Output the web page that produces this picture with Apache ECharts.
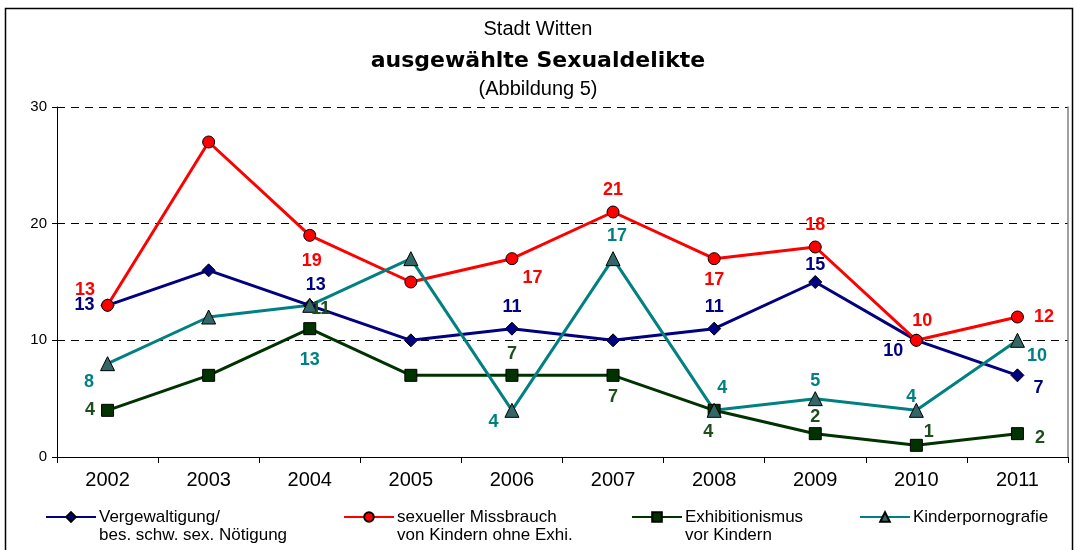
<!DOCTYPE html>
<html>
<head>
    <meta charset="utf-8">
    <title>Stadt Witten | ECharts</title>
    <script src="https://cdn.jsdelivr.net/npm/echarts@6/dist/echarts.min.js"></script>
</head>
<body style="margin:0">
    <div id="main" style="width: 1076px;height:550px;"></div>
    <script type="text/javascript">
        // Daten
        var years = ['2002', '2003', '2004', '2005', '2006', '2007', '2008', '2009', '2010', '2011'];
        var vergewaltigung = [13, 16, 13, 10, 11, 10, 11, 15, 10, 7];
        var missbrauch = [13, 27, 19, 15, 17, 21, 17, 18, 10, 12];
        var exhibitionismus = [4, 7, 11, 7, 7, 7, 4, 2, 1, 2];
        var kinderporno = [8, 12, 13, 17, 4, 17, 4, 5, 4, 10];
        var yTicks = [0, 10, 20, 30];

        // Beschriftungen: [Position, dx, dy], null = keine
        var posVerg = [['left', 0, 0], null, ['top', 6, 2], null, ['top', 0, 0], null, ['top', 0, 0], ['top', 0, 5], ['left', 0, 11], ['right', 3, 13]];
        var posMiss = [['left', 0, -15], null, ['bottom', 2, 4], null, ['right', -2, 19], ['top', 0, 0], ['bottom', 0, 0], ['top', 0, 0], ['top', 6, 2], ['right', 4, 0]];
        var posExhi = [['left', 0, 0], null, ['top', 11, 2], null, ['top', 0, 0], ['bottom', 0, 0], ['bottom', -6, 0], ['top', 0, 5], ['right', -5, -13], ['right', 5, 4]];
        var posKipo = [['left', 0, 18], null, ['bottom', 0, 32], null, ['left', 0, 12], ['top', 4, 0], ['top', 8, 0], ['top', 0, 5], ['top', -5, 9], ['right', -4, 16]];

        var font = 'Arial, "Liberation Sans", sans-serif';

        function withLabels(values, pos, color) {
            return values.map(function (v, i) {
                var p = pos[i];
                if (!p) return { value: v, label: { show: false } };
                return {
                    value: v,
                    label: {
                        show: true, position: p[0], offset: [p[1], p[2]], distance: 6,
                        color: color, fontSize: 18, fontWeight: 'bold', fontFamily: font
                    }
                };
            });
        }

        function makeSeries(name, values, pos, lineColor, symbol, size, fill, labelColor) {
            return {
                name: name,
                type: 'line',
                data: withLabels(values, pos, labelColor),
                symbol: symbol,
                symbolSize: size,
                lineStyle: { color: lineColor, width: 3 },
                itemStyle: { color: fill, borderColor: '#000', borderWidth: 1 },
                color: lineColor,
                emphasis: { disabled: true },
                animation: false
            };
        }

        var nameVerg = 'Vergewaltigung/\nbes. schw. sex. Nötigung';
        var nameMiss = 'sexueller Missbrauch\nvon Kindern ohne Exhi.';
        var nameExhi = 'Exhibitionismus\nvor Kindern';
        var nameKipo = 'Kinderpornografie';

        // leere erste Zeile, damit das Symbol auf Höhe der ersten Textzeile sitzt
        function legendAt(name, left) {
            var twoLines = name.indexOf('\n') >= 0;
            return {
                data: [name], left: left, top: twoLines ? 485 : 503,
                itemWidth: 50, itemHeight: 12, itemGap: 2,
                formatter: function (n) { return n.indexOf('\n') >= 0 ? ' \n' + n : n; },
                textStyle: { fontSize: 17, fontFamily: font, color: '#000', lineHeight: 18, padding: [0, 0, 0, -2] }
            };
        }

        var myChart = echarts.init(document.getElementById('main'));

        var option = {
            backgroundColor: '#fff',
            title: [
                { text: 'Stadt Witten', left: 'center', top: 14, textStyle: { fontSize: 20, fontWeight: 'normal', fontFamily: font, color: '#000' } },
                { text: 'ausgewählte Sexualdelikte', left: 'center', top: 45, textStyle: { fontSize: 22, fontWeight: 'bold', fontFamily: '"DejaVu Sans", sans-serif', color: '#000' } },
                { text: '(Abbildung 5)', left: 'center', top: 74, textStyle: { fontSize: 20, fontWeight: 'normal', fontFamily: font, color: '#000' } }
            ],
            legend: [
                legendAt(nameVerg, 40),
                legendAt(nameMiss, 338),
                legendAt(nameExhi, 626),
                legendAt(nameKipo, 854)
            ],
            graphic: [
                { type: 'rect', shape: { x: 5.5, y: 8.5, width: 1067, height: 560 }, style: { fill: 'none', stroke: '#000', lineWidth: 1.5 }, silent: true }
            ],
            grid: { left: 57, right: 8, top: 107, bottom: 93 },
            xAxis: {
                type: 'category',
                data: years,
                boundaryGap: true,
                axisLine: { lineStyle: { color: '#000', width: 1 } },
                axisTick: { show: true, length: 6, lineStyle: { color: '#000' } },
                axisLabel: { fontSize: 20, fontFamily: font, color: '#000', margin: 13 }
            },
            yAxis: [
                {
                    type: 'value', min: yTicks[0], max: yTicks[yTicks.length - 1], interval: 10,
                    axisLine: { show: true, lineStyle: { color: '#000', width: 1 } },
                    axisTick: { show: true, length: 5, lineStyle: { color: '#000' } },
                    axisLabel: { fontSize: 15, fontFamily: font, color: '#000', margin: 10 },
                    splitLine: { show: true, lineStyle: { color: '#000', type: [8, 6], width: 1 } }
                },
                {
                    type: 'value', min: 0, max: 30, interval: 10, position: 'right',
                    axisLine: { show: true, lineStyle: { color: '#808080', width: 1.5 } },
                    axisTick: { show: false }, axisLabel: { show: false }, splitLine: { show: false }
                }
            ],
            series: [
                makeSeries(nameVerg, vergewaltigung, posVerg, '#000080', 'diamond', 13, '#000080', '#000080'),
                makeSeries(nameMiss, missbrauch, posMiss, '#FF0000', 'circle', 12, '#FF0000', '#FF0000'),
                makeSeries(nameExhi, exhibitionismus, posExhi, '#003300', 'rect', 12, '#003300', '#1E4D1E'),
                makeSeries(nameKipo, kinderporno, posKipo, '#008080', 'triangle', 14, '#336666', '#008080')
            ]
        };

        myChart.setOption(option);
    </script>
</body>
</html>
